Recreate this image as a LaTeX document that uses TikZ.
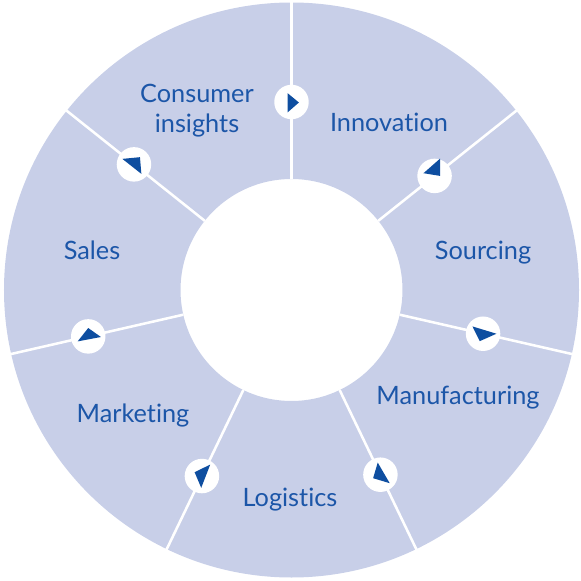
\documentclass[tikz,border=0pt]{standalone}
\usepackage{fontspec}
\setmainfont{Lato}[Ligatures={NoCommon}]
\usetikzlibrary{positioning}

\definecolor{ringfill}{RGB}{200,207,232}
\definecolor{lblblue}{RGB}{28,86,168}
\definecolor{tipblue}{RGB}{14,78,160}

\begin{document}
\begin{tikzpicture}[
    % ── Global: 1 unit = 1 px of the layout ──
    x=0.02cm, y=0.02cm,
    % ── Styles ──
    ring/.style={fill=ringfill, even odd rule},
    divider/.style={draw=white, line width=1.45pt},
    sectorlbl/.style={
        font=\fontsize{14.4}{17}\selectfont,
        text=lblblue, align=center, inner sep=0pt
    },
    waypt/.style={
        circle, fill=white, draw=none,
        minimum size=0.69cm, inner sep=0pt
    },
    pointer/.style={fill=tipblue},
]
\useasboundingbox (-291.5,-291) rectangle (289.5,290);

% ════════════════════════════════════════════════════════
%  RING
% ════════════════════════════════════════════════════════

\coordinate (O) at (0,0);
\fill [ring] (O) circle (287.5) (O) circle (111);

\draw [divider] (90:111)      -- (90:289);
\draw [divider] (38.57:111)   -- (38.57:289);
\draw [divider] (-12.86:111)  -- (-12.86:289);
\draw [divider] (-64.29:111)  -- (-64.29:289);
\draw [divider] (-115.71:111) -- (-115.71:289);
\draw [divider] (-167.14:111) -- (-167.14:289);
\draw [divider] (141.43:111)  -- (141.43:289);

% ════════════════════════════════════════════════════════
%  SECTOR LABELS
% ════════════════════════════════════════════════════════

\node (consumer) [sectorlbl] at (-94.5,179)  {Consumer\\insights};
\node (innov)    [sectorlbl] at (97.5,168)   {Innovation};
\node (sourcing) [sectorlbl] at (191.5,37)   {Sourcing};
\node (manuf)    [sectorlbl] at (166.5,-108) {Manufacturing};
\node (logist)   [sectorlbl] at (-1.5,-210)  {Logistics};
\node (market)   [sectorlbl] at (-158.5,-125){Marketing};
\node (sales)    [sectorlbl] at (-199.5,40)  {Sales};

% ════════════════════════════════════════════════════════
%  WAYPOINTS on the dividers
% ════════════════════════════════════════════════════════

\node (w1) [waypt] at (90:188)      {};
\node (w2) [waypt] at (38.57:183)   {};
\node (w3) [waypt] at (-12.86:196.5){};
\node (w4) [waypt] at (-64.29:205)  {};
\node (w5) [waypt] at (-115.71:206.5){};
\node (w6) [waypt] at (-167.14:208.5){};
\node (w7) [waypt] at (141.43:201.5){};

% Pointers
\fill [pointer, shift={(w1.center)}] (7.4,-0.5)  -- (-4,8.9)    -- (-4,-10.5)  -- cycle;
\fill [pointer, shift={(w2.center)}] (-11.1,2.7) -- (5.5,17.3)   -- (5.5,0)     -- cycle;
\fill [pointer, shift={(w3.center)}] (-10.6,7.3) -- (13.4,0)     -- (-3.3,-7.4) -- cycle;
\fill [pointer, shift={(w4.center)}] (-2.7,12.1) -- (9.3,-8.5)   -- (-7.3,-3.5) -- cycle;
\fill [pointer, shift={(w5.center)}] (-7.3,3.8)  -- (8.3,11.5)   -- (-0.7,-11.8)-- cycle;
\fill [pointer, shift={(w6.center)}] (-10.6,-5)  -- (0,8.4)      -- (12.7,-0.6) -- cycle;
\fill [pointer, shift={(w7.center)}] (-11.6,5.5) -- (6,7.2)      -- (7.4,-9.5)  -- cycle;

\end{tikzpicture}
\end{document}
